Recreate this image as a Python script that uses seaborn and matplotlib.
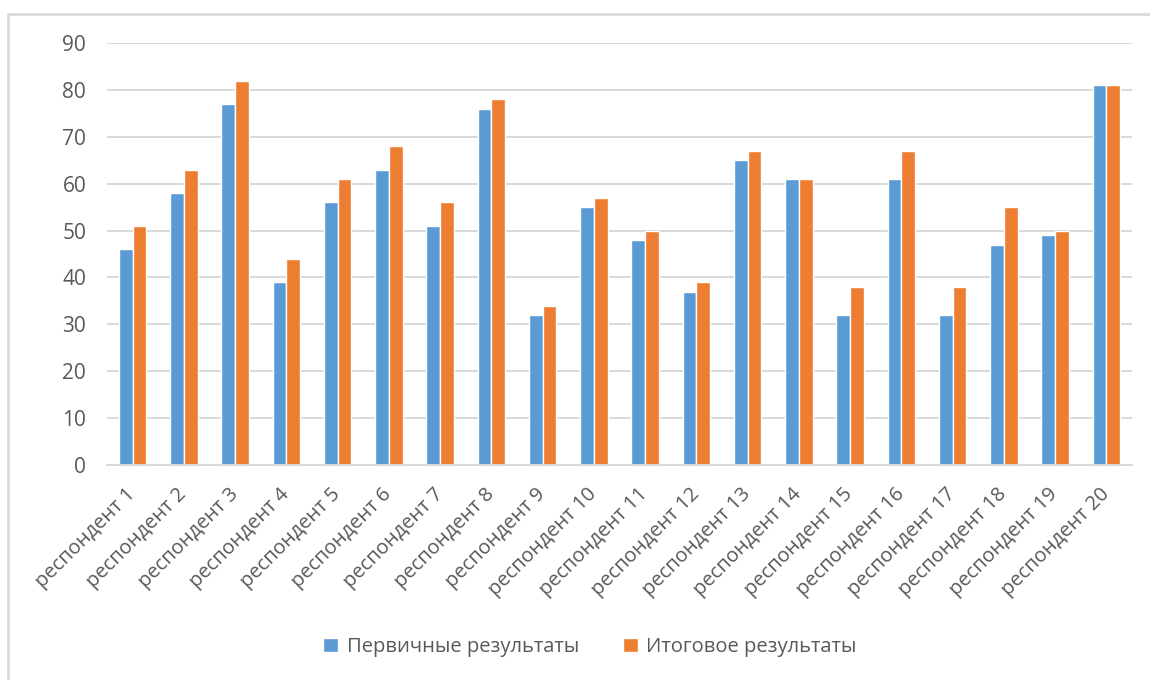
import matplotlib
matplotlib.use("Agg")
import matplotlib.pyplot as plt
import seaborn as sns
import pandas as pd
from matplotlib.patches import Rectangle

categories = [f"респондент {i}" for i in range(1, 21)]
primary = [46, 58, 77, 39, 56, 63, 51, 76, 32, 55, 48, 37, 65, 61, 32, 61, 32, 47, 49, 81]
final = [51, 63, 82, 44, 61, 68, 56, 78, 34, 57, 50, 39, 67, 61, 38, 67, 38, 55, 50, 81]
series_names = ["Первичные результаты", "Итоговое результаты"]
colors = ["#5B9BD5", "#ED7D31"]
y_ticks = [0, 10, 20, 30, 40, 50, 60, 70, 80, 90]

df = pd.DataFrame({
    "cat": categories * 2,
    "val": primary + final,
    "series": [series_names[0]] * len(categories) + [series_names[1]] * len(categories),
})

sns.set_theme(style="white")
plt.rcParams["font.family"] = ["Open Sans", "DejaVu Sans"]

fig = plt.figure(figsize=(11.5, 6.8), dpi=100)
ax = fig.add_axes([107 / 1150, 1 - 465 / 680, (1132 - 107) / 1150, (465 - 43) / 680])

sns.barplot(data=df, x="cat", y="val", hue="series", palette=colors, width=0.54,
            edgecolor="white", linewidth=1.0, ax=ax, legend=True, saturation=1)

ax.set_ylim(0, 90)
ax.set_yticks(y_ticks)
ax.set_xlim(-0.5, len(categories) - 0.5)
ax.yaxis.grid(True, color="#d9d9d9", linewidth=1.4)
ax.set_axisbelow(True)
for s in ["top", "right", "left"]:
    ax.spines[s].set_visible(False)
ax.spines["bottom"].set_color("#d9d9d9")
ax.spines["bottom"].set_linewidth(1.4)
ax.set_xlabel("")
ax.set_ylabel("")
ax.tick_params(axis="y", length=0, pad=15, labelsize=15, labelcolor="#595959")
ax.tick_params(axis="x", length=0, pad=19, labelsize=14.5, labelcolor="#595959")
for lab in ax.get_xticklabels():
    lab.set_rotation(45)
    lab.set_ha("right")
    lab.set_va("center")
    lab.set_rotation_mode("anchor")

ax.legend(loc="center", bbox_to_anchor=(590 / 1150, 1 - 647 / 680), bbox_transform=fig.transFigure,
          ncol=2, frameon=False, fontsize=14.5, labelcolor="#595959", handlelength=0.75,
          handleheight=0.75, handletextpad=0.4, columnspacing=2.2)

fig.patches.append(Rectangle((8 / 1150, -0.1), 1.2, 1 - 14 / 680 + 0.1, transform=fig.transFigure,
                             fill=False, edgecolor="#d9d9d9", linewidth=2, zorder=-1))

fig.savefig("out.png", dpi=100)
